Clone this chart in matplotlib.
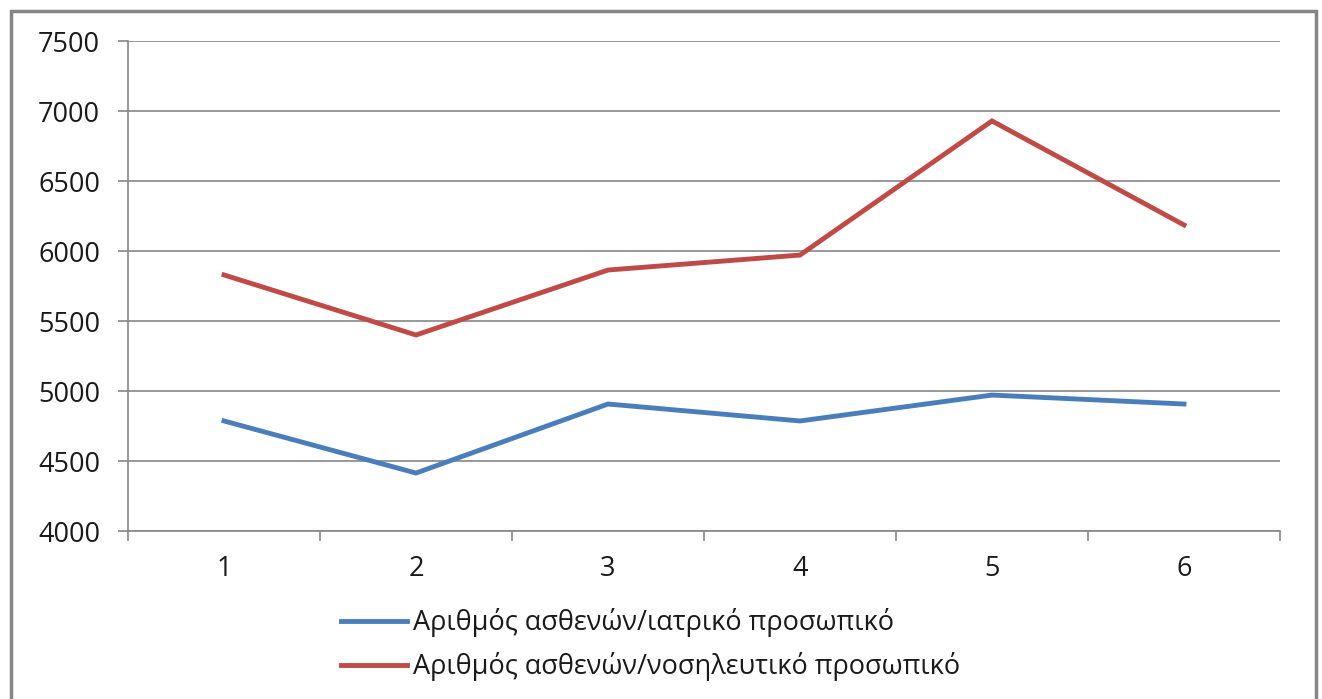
import matplotlib
matplotlib.use("Agg")
import matplotlib.pyplot as plt
from matplotlib.patches import Rectangle

plt.rcParams['font.family'] = ['Open Sans', 'DejaVu Sans']

periods = [1, 2, 3, 4, 5, 6]
medical_ratio = [4786, 4414, 4907, 4786, 4971, 4907]
nursing_ratio = [5829, 5400, 5864, 5971, 6929, 6186]
series_labels = ['Αριθμός ασθενών/ιατρικό προσωπικό',
                 'Αριθμός ασθενών/νοσηλευτικό προσωπικό']
y_ticks = [4000, 4500, 5000, 5500, 6000, 6500, 7000, 7500]

W, H = 1322, 699
fig = plt.figure(figsize=(W / 100, H / 100), dpi=100)
fig.patch.set_facecolor('white')

ax = fig.add_axes([128 / W, (H - 531) / H, (1280 - 128) / W, (531 - 41) / H])

grey = '#868686'
text_col = '#1a1a1a'
fs = 19.5

ax.plot(periods, medical_ratio, color='#4A7EBB', lw=3.5, solid_joinstyle='miter',
        label=series_labels[0], zorder=3)
ax.plot(periods, nursing_ratio, color='#BE4B48', lw=3.5, solid_joinstyle='miter',
        label=series_labels[1], zorder=3)

ax.set_xlim(0.5, 6.5)
ax.set_ylim(4000, 7500)
ax.set_yticks(y_ticks)
ax.set_yticklabels([str(v) for v in y_ticks])
ax.set_xticks(periods)
ax.set_xticklabels([str(p) for p in periods])
ax.set_xticks([p + 0.5 for p in [0] + periods], minor=True)

ax.grid(axis='y', color=grey, lw=1.2, zorder=1)
ax.set_axisbelow(True)
for side in ['top', 'right']:
    ax.spines[side].set_visible(False)
for side in ['left', 'bottom']:
    ax.spines[side].set_color(grey)
    ax.spines[side].set_linewidth(1.2)

ax.tick_params(axis='y', which='major', length=7, width=1.2, color=grey,
               labelsize=fs, pad=13, labelcolor=text_col)
ax.tick_params(axis='x', which='major', length=0, labelsize=fs, pad=17,
               labelcolor=text_col)
ax.tick_params(axis='x', which='minor', length=7, width=1.2, color=grey)

fig.legend(loc='upper left', bbox_to_anchor=(341 / W, 1 - 608 / H),
           frameon=False, fontsize=fs, handlelength=2.45, handletextpad=0.2,
           labelspacing=0.57, borderaxespad=0, borderpad=0,
           labelcolor=text_col)

fig.patches.append(Rectangle((11 / W, -0.05), (1316 - 11) / W, 1.05 - 11 / H,
                             transform=fig.transFigure, fill=False,
                             edgecolor=grey, lw=2.5, zorder=10))

fig.savefig('out.png', dpi=100, facecolor='white')
